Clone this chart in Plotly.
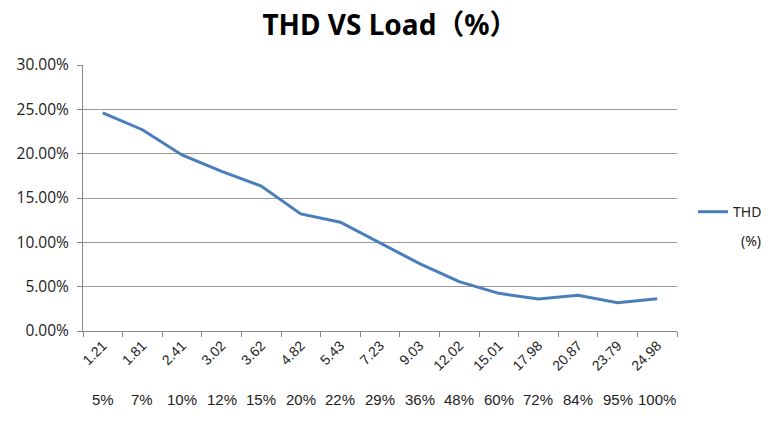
import plotly.graph_objects as go

current_labels = ["1.21", "1.81", "2.41", "3.02", "3.62", "4.82", "5.43", "7.23",
                  "9.03", "12.02", "15.01", "17.98", "20.87", "23.79", "24.98"]
load_labels = ["5%", "7%", "10%", "12%", "15%", "20%", "22%", "29%",
               "36%", "48%", "60%", "72%", "84%", "95%", "100%"]
thd_values = [0.246, 0.227, 0.1985, 0.180, 0.1635, 0.132, 0.1226, 0.099,
              0.076, 0.0556, 0.0425, 0.036, 0.0402, 0.032, 0.0364]
y_ticks = [0, 0.05, 0.10, 0.15, 0.20, 0.25, 0.30]

fig = go.Figure()
fig.add_trace(go.Scatter(
    x=current_labels, y=thd_values, mode="lines",
    name="THD",
    line=dict(color="#4a7ebb", width=3),
))

for i, lab in enumerate(load_labels):
    fig.add_annotation(x=i, y=0, xref="x", yref="paper", yshift=-79,
                       text=lab, showarrow=False,
                       font=dict(family="Liberation Sans, Arial", size=15, color="#222"))

fig.add_annotation(x=1.104, y=0.34, xref="paper", yref="paper", xanchor="left",
                   text="(%)", showarrow=False,
                   font=dict(family="Noto Sans", size=14, color="#222"))

fig.update_layout(
    width=755, height=406,
    margin=dict(l=75, r=86, t=57, b=83, autoexpand=False),
    paper_bgcolor="white", plot_bgcolor="white",
    title=dict(text="<b>THD VS Load（%）</b>", x=0.506, xanchor="center",
               y=0.957, yanchor="middle",
               font=dict(family="Noto Sans, Noto Sans CJK SC", size=28, color="black")),
    legend=dict(x=1.027, y=0.447, xanchor="left", yanchor="middle",
                font=dict(family="Noto Sans", size=14, color="#222"),
                bgcolor="rgba(0,0,0,0)", itemwidth=30),
    showlegend=True,
)
fig.update_xaxes(type="category", range=[-0.5, 14.5], tickson="boundaries",
                 ticks="outside", ticklen=5,
                 tickcolor="#888", showline=True, linecolor="#888", linewidth=1,
                 showgrid=False, tickangle=-45, automargin=False,
                 tickfont=dict(family="Liberation Sans, Arial", size=14, color="#222"))
fig.update_yaxes(range=[0, 0.30], tickvals=y_ticks, tickformat=".2%",
                 ticks="outside", ticklen=5, tickcolor="#888",
                 showline=True, linecolor="#888", linewidth=1,
                 showgrid=True, gridcolor="#999", gridwidth=1, zeroline=False,
                 automargin=False, ticklabelstandoff=5,
                 tickfont=dict(family="Open Sans", size=15.5, color="#222"))

fig.write_html("out.html")
